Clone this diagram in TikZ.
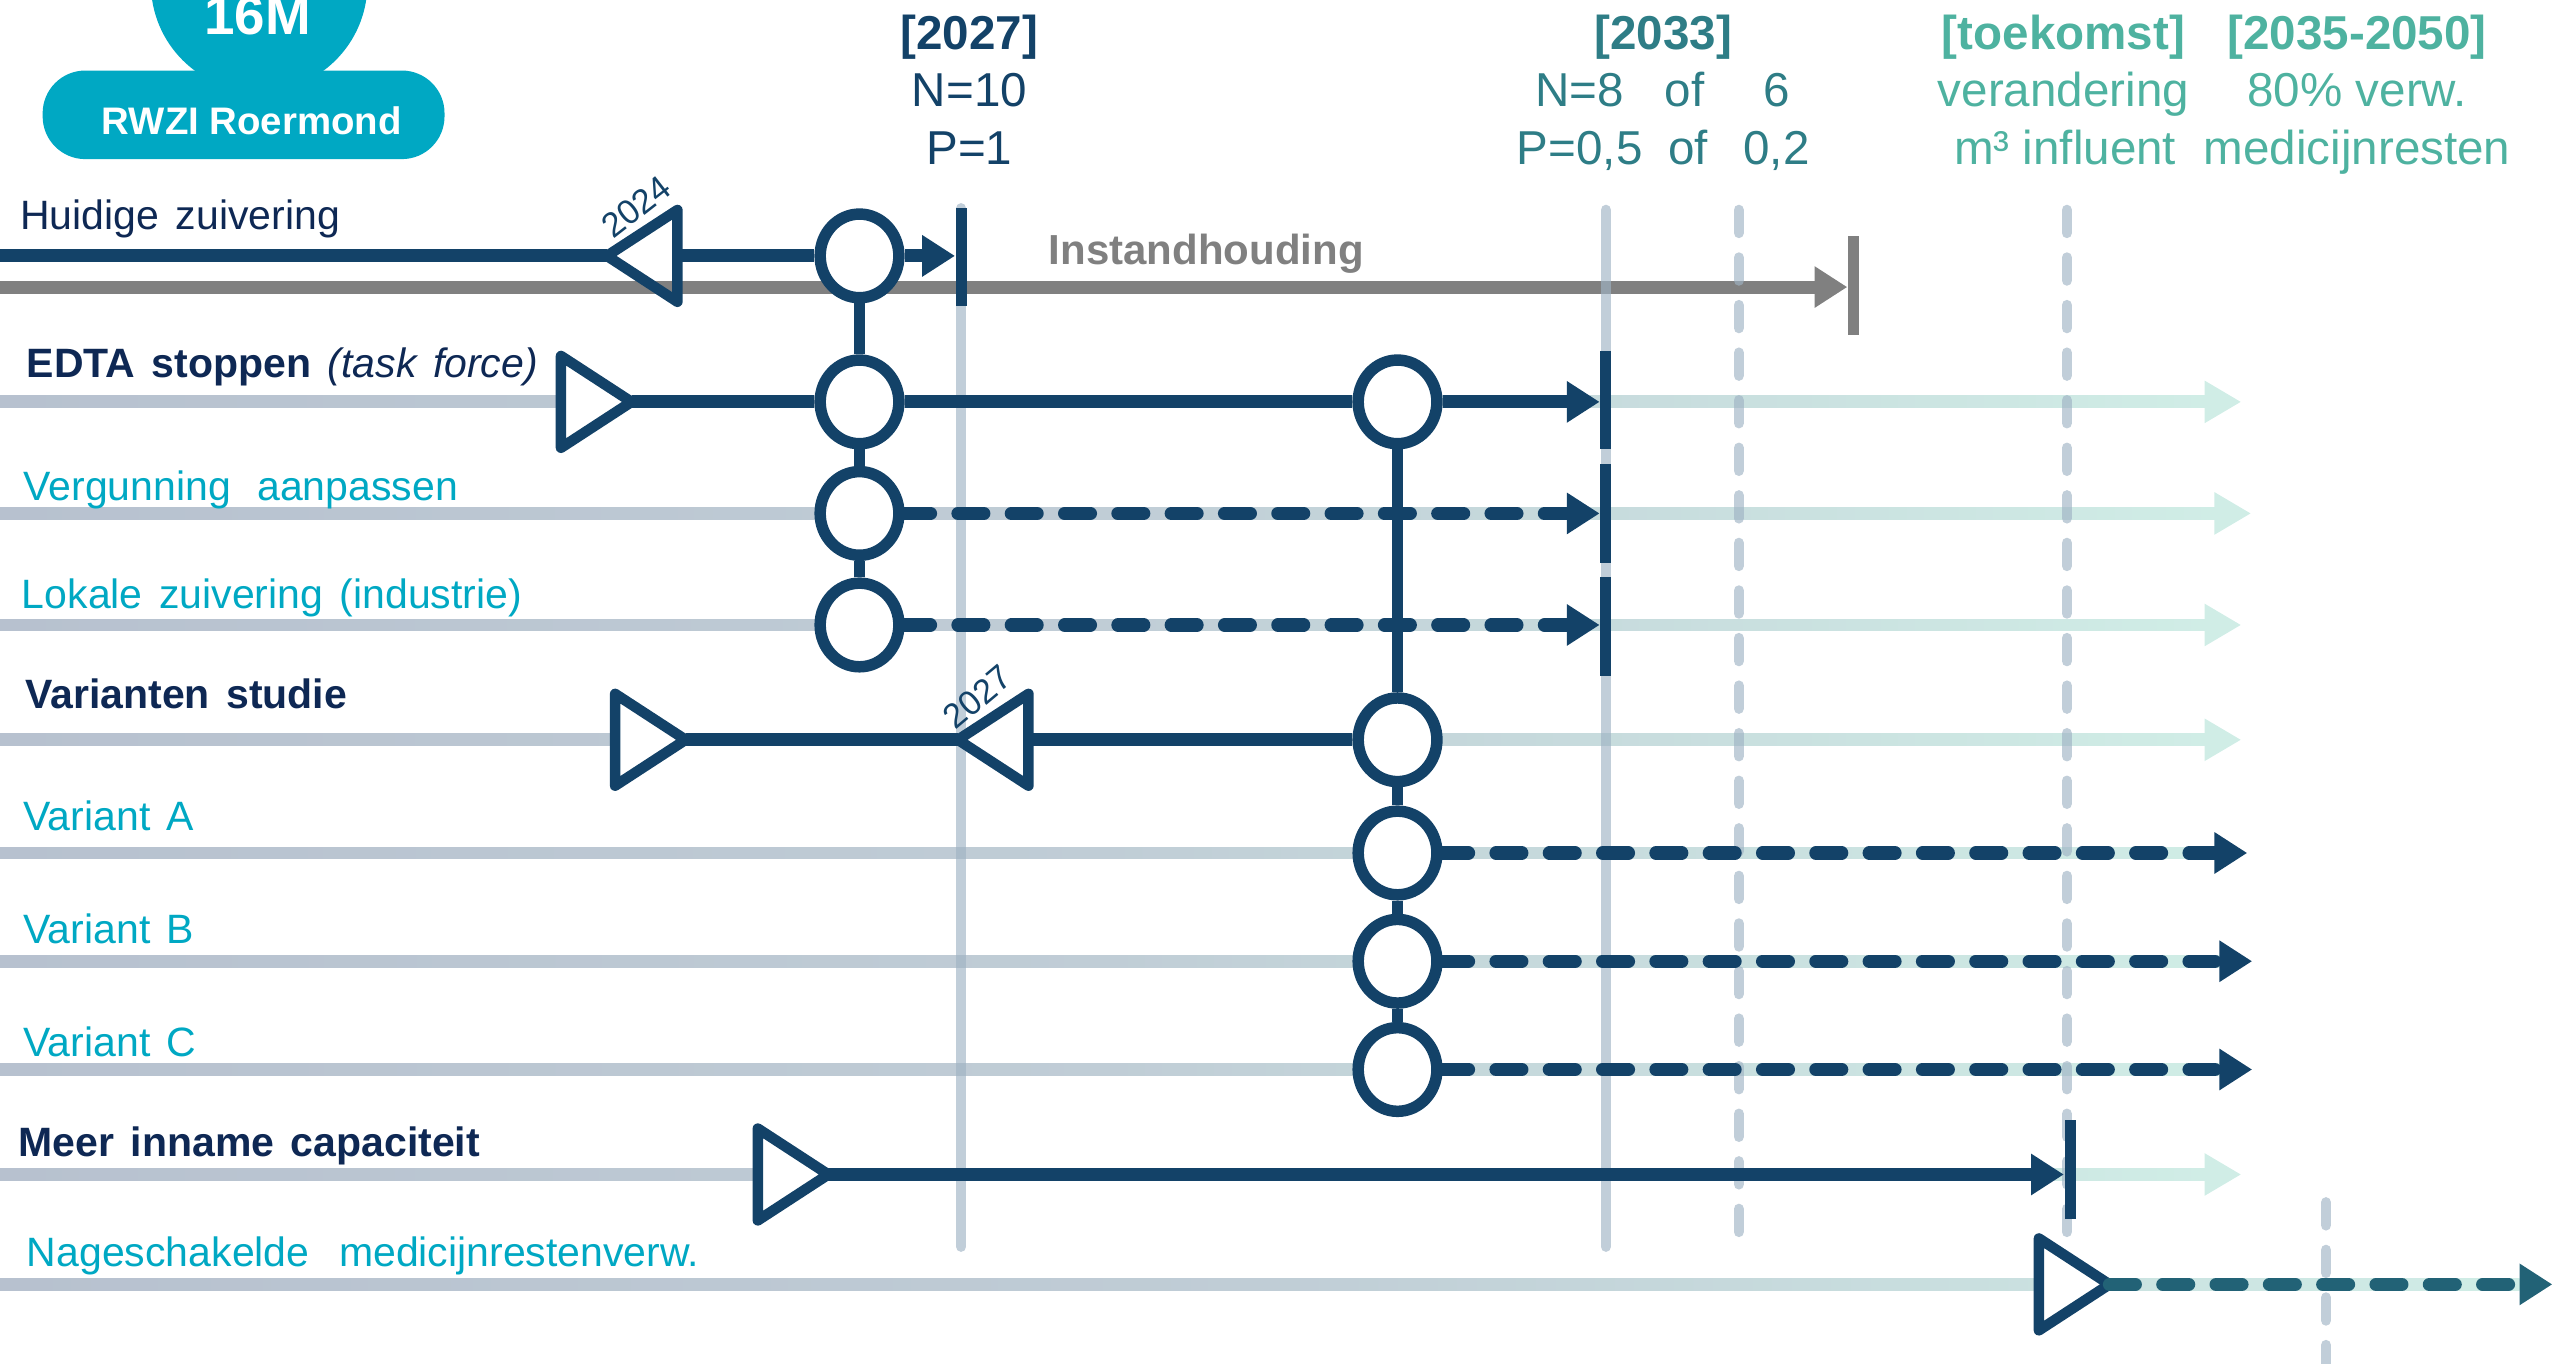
\documentclass[tikz,border=0pt]{standalone}
\usepackage{fontspec}
\setmainfont{Liberation Sans}
\usetikzlibrary{shapes.geometric,arrows.meta}

\definecolor{navy}{RGB}{19,66,104}
\definecolor{labeldark}{RGB}{14,40,84}
\definecolor{aqua}{RGB}{0,168,195}
\definecolor{sea}{RGB}{46,125,134}
\definecolor{mint}{RGB}{78,178,160}
\definecolor{rowgrey}{RGB}{183,193,207}
\definecolor{rowmid}{RGB}{192,205,214}
\definecolor{rowmint}{RGB}{208,237,230}
\definecolor{mile}{RGB}{159,179,196}
\definecolor{keepgrey}{RGB}{128,128,128}
\definecolor{nagteal}{RGB}{34,98,118}
\newcommand\wijdespatie{\spaceskip=5pt\relax}

\begin{document}
\begin{tikzpicture}[
  x=0.5pt, y=-0.5pt,
  halte/.style={ellipse, draw=navy, line width=3.5pt, fill=white, inner sep=0pt, minimum width=24pt, minimum height=25.5pt},
  driehoek/.style={isosceles triangle, isosceles triangle stretches, draw=navy, line width=3.2pt, line join=round, inner sep=0pt, outer sep=0pt, minimum height=21.5pt, minimum width=28pt},
  heen/.style={driehoek, fill=white},
  terug/.style={driehoek, shape border rotate=180},
  balk/.style={rectangle, fill=navy, inner sep=0pt, minimum width=3.4pt, minimum height=30pt},
  spoor/.style={draw=navy, line width=4pt},
  plan/.style={draw=navy, line width=4pt, line cap=round, dash pattern=on 7.9pt off 8.35pt},
  verbinding/.style={draw=navy, line width=3.5pt},
  pijl/.style={-{Triangle[length=10pt,width=12pt]}},
  mijlpaal/.style={draw=mile, opacity=0.65, line width=3.2pt, line cap=round},
  gepland/.style={mijlpaal, dash pattern=on 7pt off 7.5pt},
  rij/.style={font=\fontsize{12.5}{15}\selectfont, execute at begin node=\wijdespatie, anchor=base west, inner sep=0pt},
  kop/.style={font=\fontsize{14.5}{17}\selectfont, anchor=base, inner sep=0pt},
  jaar/.style={font=\fontsize{10.5}{12}\selectfont, text=navy, inner sep=0pt}
]
\useasboundingbox (0,0) rectangle (1568,831);

\fill[aqua] (158,-10) circle (66);
\fill[aqua, rounded corners=13pt] (26,43) rectangle (271,97);
\node[font=\bfseries\fontsize{16.7}{19}\selectfont, text=white, anchor=base] (grootte) at (157,21) {16M};
\node[font=\bfseries\fontsize{11.7}{14}\selectfont, text=white, anchor=base] (rwzi) at (153.5,82) {RWZI Roermond};

\node[kop, text=navy] (k2027) at (591,30) {\bfseries [2027]};
\node[kop, text=navy] (n2027) at (591,65) {N=10};
\node[kop, text=navy] (p2027) at (591,100) {P=1};
\node[kop, text=sea] (k2033) at (1014,30) {\bfseries [2033]};
\node[kop, text=sea] (n2033) at (963,65) {N=8};
\node[kop, text=sea] (nof) at (1027,65) {of};
\node[kop, text=sea] (nalt) at (1083,65) {6};
\node[kop, text=sea] (p2033) at (963,100) {P=0,5};
\node[kop, text=sea] (pof) at (1029,100) {of};
\node[kop, text=sea] (palt) at (1083,100) {0,2};
\node[kop, text=mint] (ktoek) at (1258,30) {\bfseries [toekomst]};
\node[kop, text=mint] (vtoek) at (1258,65) {verandering};
\node[kop, text=mint] (itoek) at (1259,100) {m³ influent};
\node[kop, text=mint] (k2050) at (1437,30) {\bfseries [2035-2050]};
\node[kop, text=mint] (v2050) at (1437,65) {80\% verw.};
\node[kop, text=mint] (m2050) at (1437,100) {medicijnresten};

\foreach \y/\eind/\punt in {245/1366/1, 313/1372/1, 381/1366/1, 451/1366/1, 520/1370/0, 586/1373/0, 652/1373/0, 716/1366/1, 783/1556/0} {
  \shade[left color=rowgrey, right color=rowmint, middle color=rowmid] (0,\y-3.6) rectangle (\eind-20,\y+3.6);
  \ifnum\punt=1 \fill[rowmint] (\eind-22,\y-13) -- (\eind,\y) -- (\eind-22,\y+13) -- cycle; \fi
}

\coordinate (gbegin) at (0,175);
\node[balk, fill=keepgrey] (bhoud) at (1130,174) {};
\draw[keepgrey, line width=4pt, pijl] (gbegin) -- (bhoud.west |- gbegin);
\node[font=\bfseries\fontsize{12.8}{15}\selectfont, text=keepgrey, anchor=base west, inner sep=0pt] (houd) at (639,161.5) {Instandhouding};

\draw[mijlpaal] (586,127) -- (586,760);
\draw[mijlpaal] (979,128) -- (979,760);
\draw[gepland] (1060,128) -- (1060,762);
\draw[gepland] (1260,128) -- (1260,762);
\draw[gepland] (1418,733) -- (1418,845);

\node[rij, text=labeldark] (lhuidig) at (12,140) {Huidige zuivering};
\node[rij, text=labeldark] (ledta) at (16,230) {\bfseries EDTA stoppen \mdseries\itshape (task force)};
\node[rij, text=aqua] (lverg) at (14,305) {Vergunning\hspace{3pt} aanpassen};
\node[rij, text=aqua] (llokaal) at (13,371) {Lokale zuivering (industrie)};
\node[rij, text=labeldark] (lvar) at (15,432) {\bfseries Varianten studie};
\node[rij, text=aqua] (lvara) at (14,506) {Variant A};
\node[rij, text=aqua] (lvarb) at (14,575) {Variant B};
\node[rij, text=aqua] (lvarc) at (14,644) {Variant C};
\node[rij, text=labeldark] (lmeer) at (11,705) {\bfseries Meer inname capaciteit};
\node[rij, text=aqua] (lnag) at (16,772) {Nageschakelde\hspace{4pt} medicijnrestenverw.};

\node[balk] (b2027) at (586,156.5) {};
\node[balk] (b2033a) at (979,244) {};
\node[balk] (b2033b) at (979,313) {};
\node[balk] (b2033c) at (979,382) {};
\node[balk] (bmeer) at (1262,713) {};

\node[terug, anchor=apex] (t2024) at (370,156) {};
\node[heen, anchor=apex] (tedta) at (385,245) {};
\node[heen, anchor=apex] (tvar) at (418,451) {};
\node[terug, fill=white, anchor=apex] (t2027) at (584,451) {};
\node[heen, anchor=apex] (tmeer) at (505,716) {};
\node[heen, anchor=apex] (tnag) at (1286,783) {};
\node[jaar, rotate=38] (j2024) at (388,126) {2024};
\node[jaar, rotate=40] (j2027) at (596,425) {2027};

\node[halte] (ca0) at (524,156) {};
\node[halte] (ca1) at (524,245) {};
\node[halte] (ca2) at (524,313) {};
\node[halte] (ca3) at (524,381) {};
\node[halte] (cb1) at (852,245) {};
\node[halte] (cb4) at (852,451) {};
\node[halte] (cb5) at (852,520) {};
\node[halte] (cb6) at (852,586) {};
\node[halte] (cb7) at (852,652) {};

\coordinate (hbegin) at (0,156);
\coordinate (ea) at (1370,520);
\coordinate (eb) at (1373,586);
\coordinate (ec) at (1373,652);
\coordinate (enag) at (1556,783);

\draw[spoor] (hbegin) -- (t2024.apex);
\draw[spoor] (t2024) -- (ca0);
\draw[spoor, pijl] (ca0) -- (b2027.west |- ca0);
\draw[verbinding] (ca0) -- (ca1) -- (ca2) -- (ca3);
\draw[spoor] (tedta.apex) -- (ca1);
\draw[spoor] (ca1) -- (cb1);
\draw[spoor, pijl] (cb1) -- (b2033a.west |- cb1);
\draw[plan, pijl] (ca2) -- (b2033b.west |- ca2);
\draw[plan, pijl] (ca3) -- (b2033c.west |- ca3);
\draw[spoor] (tvar.apex) -- (t2027.apex);
\draw[spoor] (t2027) -- (cb4);
\draw[verbinding] (cb1) -- (cb4) -- (cb5) -- (cb6) -- (cb7);
\draw[plan, pijl] (cb5) -- (ea);
\draw[plan, pijl] (cb6) -- (eb);
\draw[plan, pijl] (cb7) -- (ec);
\draw[spoor, pijl] (tmeer.apex) -- (bmeer.west |- tmeer.apex);
\draw[plan, draw=nagteal, pijl] (tnag.apex) -- (enag);
\end{tikzpicture}
\end{document}
